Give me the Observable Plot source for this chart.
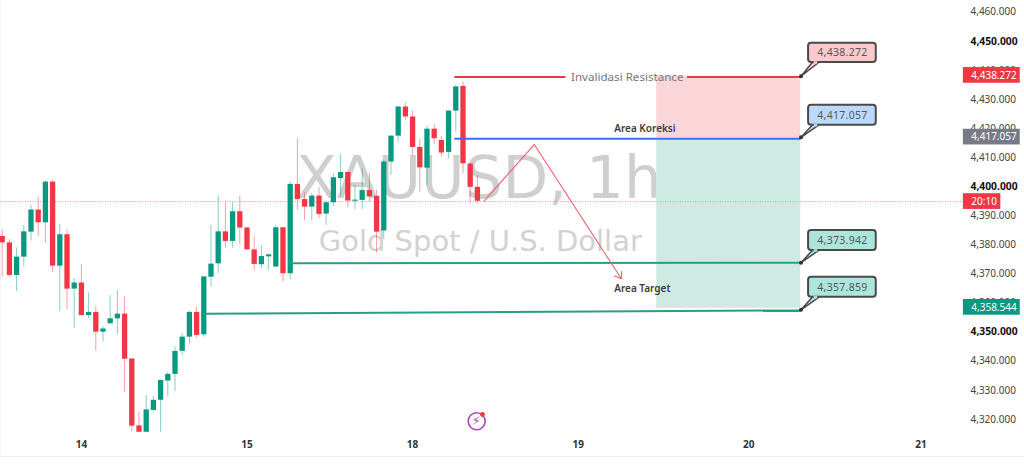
<!DOCTYPE html>
<html><head><meta charset="utf-8">
<script src="https://cdn.jsdelivr.net/npm/d3@7"></script>
<script src="https://cdn.jsdelivr.net/npm/@observablehq/plot@0.6"></script>
<style>
html,body{margin:0;padding:0;background:#fff;overflow:hidden}
#frame{width:1024px;height:456px;border-bottom:1px solid #eeeeee;box-shadow:inset 1px 0 0 #f4f4f4}
svg{display:block;background:transparent !important}
.spaced text{letter-spacing:.3px}
</style></head><body><div id="frame"></div>
<script>
const opens=[4382.9,4380.7,4369.5,4375.8,4384.4,4392.0,4387.6,4401.6,4372.7,4383.5,4364.8,4366.9,4355.7,4356.8,4350.0,4352.9,4354.6,4356.2,4340.8,4317.8,4315.6,4323.1,4326.6,4333.2,4335.5,4343.4,4348.3,4356.8,4349.1,4368.9,4373.5,4384.5,4381.2,4391.4,4385.8,4378.3,4373.2,4375.9,4372.4,4385.9,4370.1,4400.8,4395.6,4393.0,4396.8,4390.6,4394.5,4402.8,4404.9,4395.0,4395.3,4398.7,4396.7,4384.8,4408.5,4417.4,4427.4,4424.0,4413.5,4406.4,4419.8,4415.9,4411.8,4426.0,4434.5,4407.8,4399.8];
const closes=[4380.7,4369.5,4375.8,4384.5,4392.0,4387.6,4401.6,4372.7,4383.5,4364.8,4366.9,4355.7,4356.8,4350.0,4351.1,4354.6,4356.2,4340.7,4317.7,4315.6,4323.3,4326.6,4333.4,4335.5,4343.4,4348.3,4356.8,4348.9,4369.0,4373.4,4384.5,4381.2,4391.4,4385.8,4378.3,4373.3,4376.0,4376.6,4385.9,4370.1,4400.8,4395.6,4393.0,4396.8,4390.5,4394.5,4403.1,4404.9,4395.1,4395.4,4398.7,4396.5,4384.4,4408.5,4417.4,4427.4,4424.0,4413.5,4406.5,4419.8,4416.5,4411.6,4426.0,4434.3,4407.9,4399.8,4395.0];
const highs=[4385.2,4381.8,4379.0,4386.7,4393.6,4396.4,4401.9,4402.2,4387.0,4385.3,4368.4,4373.3,4363.5,4358.8,4352.0,4362.6,4364.3,4362.1,4340.8,4322.5,4328.1,4327.9,4333.6,4336.3,4344.9,4349.4,4357.2,4358.6,4369.2,4386.7,4396.9,4394.6,4394.6,4396.7,4386.1,4382.7,4379.8,4376.9,4386.7,4385.9,4401.6,4416.5,4397.9,4397.6,4399.7,4394.7,4404.5,4411.1,4405.0,4400.5,4406.0,4404.8,4398.7,4409.1,4417.4,4427.6,4428.8,4426.0,4416.2,4420.7,4421.4,4417.3,4426.2,4434.8,4436.0,4407.9,4403.9];
const lows=[4368.9,4368.9,4364.0,4372.4,4381.3,4382.9,4380.6,4370.6,4357.2,4357.7,4351.2,4355.6,4354.6,4343.5,4346.7,4352.7,4349.2,4329.2,4315.6,4315.6,4315.6,4322.7,4315.6,4327.7,4329.6,4341.8,4345.9,4348.0,4348.3,4365.5,4370.1,4378.7,4378.9,4380.2,4378.1,4371.0,4371.8,4371.2,4372.4,4367.2,4368.0,4391.9,4388.4,4388.2,4389.0,4386.7,4393.2,4396.7,4392.7,4392.1,4392.1,4394.7,4377.2,4381.8,4403.9,4415.4,4422.8,4410.8,4398.2,4400.5,4414.6,4410.2,4409.6,4418.8,4404.5,4394.2,4394.2];

const priceTicks=[4460,4440,4430,4420,4410,4390,4380,4370,4360,4340,4330,4320];
const boldTicks=[4450,4400,4350];
const dayTicks=[11,34,57,80,103.7,127.6];
const dayLabels=["14","15","18","19","20","21"];

const GREEN="#089981",RED="#f23645";
const candles=opens.map((o,i)=>({i,o,c:closes[i],h:highs[i],l:lows[i],col:closes[i]>=o?GREEN:RED}));

const levelX1=[62.8,62.8,39.9,28.0], levelX2=[110.9,110.9,110.9,110.9];
const levelY1=[4437.7,4416.5,4373.7,4356.3], levelY2=[4437.7,4416.5,4373.9,4357.5];
const levelCol=["#f23645","#3d6ef0","#2a9d86","#2a9d86"];
const levels=levelX1.map((x1,i)=>({x1,x2:levelX2[i],y1:levelY1[i],y2:levelY2[i],col:levelCol[i]}));

const zigX=[66.9,73.9], zigY=[4395.0,4414.5];
const arrowEnd={x1:73.9,y1:4414.5,x2:86.0,y2:4368.35};

const calloutText=["4,438.272","4,417.057","4,373.942","4,357.859"];
const calloutTip=[4438.0,4417.0,4373.9,4357.7];
const calloutTop=[4449.34,4428.03,4384.96,4368.9];
const calloutBot=[4442.71,4421.15,4378.1,4362.0];
const calloutFill=["#fcc9cc","#bbdafb","#ace5db","#ace5db"];
const callouts=calloutText.map((t,i)=>({t,tip:calloutTip[i],top:calloutTop[i],bot:calloutBot[i],fill:calloutFill[i],x:110.95}));
const tails=callouts.flatMap((c,i)=>[
 {k:i,x:c.x,y:c.tip,fill:c.fill},{k:i,x:112.5,y:c.bot,fill:c.fill},{k:i,x:113.4,y:c.bot,fill:c.fill},{k:i,x:c.x,y:c.tip,fill:c.fill}]);

const tagText=["4,438.272","4,417.057","20:10","4,358.544"];
const tagY=[4438.27,4417.06,4394.9,4358.54];
const tagFill=["#f23645","#787b86","#f23645","#089981"];
const tagEnd=[141.4,141.4,138.7,141.4];
const tags=tagText.map((t,i)=>({t,y:tagY[i],fill:tagFill[i],x2:tagEnd[i]}));
const tagH=2.7;

const font='"Noto Sans", sans-serif';
const x1=-0.236,x2=133.1;

const plot=Plot.plot({
 width:1024,height:456,marginLeft:0,marginRight:64,marginTop:0,marginBottom:24,
 style:{fontFamily:font,background:"transparent"},
 x:{domain:[x1,x2],range:[0,960]},
 y:{domain:[4464.02,4315.52],range:[0,432]},
 marks:[
  Plot.text(["XAUUSD, 1h"],{x:66.2,y:4402.8,text:d=>d,fontSize:59.5,fontFamily:"DejaVu Sans",fill:"#cfcfcf",textAnchor:"middle"}),
  Plot.text(["Gold Spot / U.S. Dollar"],{x:66.4,y:4381.2,text:d=>d,fontSize:29,fontFamily:"DejaVu Sans",fill:"#d2d2d2",textAnchor:"middle"}),
  Plot.rect([{}],{x1:90.9,x2:110.9,y1:4438.0,y2:4416.8,fill:"#fbd6d9"}),
  Plot.rect([{}],{x1:90.9,x2:110.9,y1:4416.8,y2:4358.2,fill:"#cfe9e3"}),
  Plot.ruleY([4394.9],{x1:x1,x2:133.5,stroke:"#f5939b",strokeWidth:1,strokeDasharray:"1,1.5"}),
  Plot.ruleX(candles,{x:"i",y1:"h",y2:"l",stroke:"col",strokeWidth:1,strokeOpacity:.48,clip:true}),
  Plot.ruleX(candles,{x:"i",y1:"o",y2:"c",stroke:"col",strokeWidth:5.3,clip:true}),
  Plot.link(levels,{x1:"x1",x2:"x2",y1:"y1",y2:"y2",stroke:"col",strokeWidth:2}),
  Plot.rect([{}],{x1:78.3,x2:90.9,y1:4440.5,y2:4435,fill:"#ffffff"}),
  Plot.rect([{}],{x1:90.9,x2:95.2,y1:4440.5,y2:4437.95,fill:"#ffffff"}),
  Plot.rect([{}],{x1:90.9,x2:95.2,y1:4437.95,y2:4435,fill:"#fbd6d9"}),
  Plot.text(["Invalidasi Resistance"],{x:79.0,y:4437.6,text:d=>d,fontSize:11.6,fill:"#777",textAnchor:"start"}),
  Plot.text(["Area Koreksi"],{x:85.0,y:4420.0,text:d=>d,fontSize:10,fontWeight:600,fill:"#3c3c3c",textAnchor:"start"}),
  Plot.text(["Area Target"],{x:85.0,y:4365,text:d=>d,fontSize:10,fontWeight:600,fill:"#3c3c3c",textAnchor:"start"}),
  Plot.line(zigX.map((x,i)=>({x,y:zigY[i]})),{x:"x",y:"y",stroke:"#f2606c",strokeWidth:1.1}),
  Plot.arrow([arrowEnd],{x1:"x1",y1:"y1",x2:"x2",y2:"y2",stroke:"#f2606c",strokeWidth:1.1,headLength:10,headAngle:70}),
  Plot.rect(callouts,{x1:112,x2:121.4,y1:"top",y2:"bot",fill:"fill",stroke:"#4a4a4a",strokeWidth:2,rx:3}),
  Plot.line(tails,{x:"x",y:"y",z:"k",fill:"fill",stroke:"#4a4a4a",strokeWidth:1.5}),
  Plot.link(callouts,{x1:112.7,x2:113.2,y1:"bot",y2:"bot",stroke:"fill",strokeWidth:2.5}),
  Plot.dot(callouts,{x:"x",y:"tip",r:2,fill:"#333"}),
  Plot.text(callouts,{x:116.7,y:d=>(d.top+d.bot)/2,text:"t",fontSize:10.5,fill:"#555",textAnchor:"middle",className:"spaced"}),
  Plot.dot([{}],{x:65.9,y:4319.4,r:8.5,stroke:"#ab47bc",strokeWidth:1.6,fill:"#fff"}),
  Plot.text(["\u26A1\uFE0E"],{x:65.8,y:4319.4,text:d=>d,fontSize:12,fill:"#ab47bc"}),
  Plot.dot([{}],{x:66.7,y:4321.7,r:2.4,fill:"#f23645"}),
  Plot.axisY({ticks:priceTicks,anchor:"right",tickSize:0,tickPadding:10,tickFormat:d3.format(",.3f"),label:null,fontSize:10,fill:"#444",textAnchor:"start"}),
  Plot.axisY({ticks:boldTicks,anchor:"right",tickSize:0,tickPadding:10,tickFormat:d3.format(",.3f"),label:null,fontSize:10.3,fill:"#111",fontWeight:700,textAnchor:"start"}),
  Plot.axisX({ticks:dayTicks,tickFormat:d=>dayLabels[dayTicks.indexOf(d)],tickSize:0,tickPadding:8,label:null,fontSize:10,fontWeight:"bold",fill:"#333"}),
  Plot.rect(tags,{x1:133.5,x2:"x2",y1:d=>d.y+tagH,y2:d=>d.y-tagH,fill:"fill"}),
  Plot.text(tags,{x:134.6,y:"y",text:"t",fontSize:10,fill:"#fff",textAnchor:"start"})
 ]
});
document.getElementById("frame").appendChild(plot);
</script></body></html>
